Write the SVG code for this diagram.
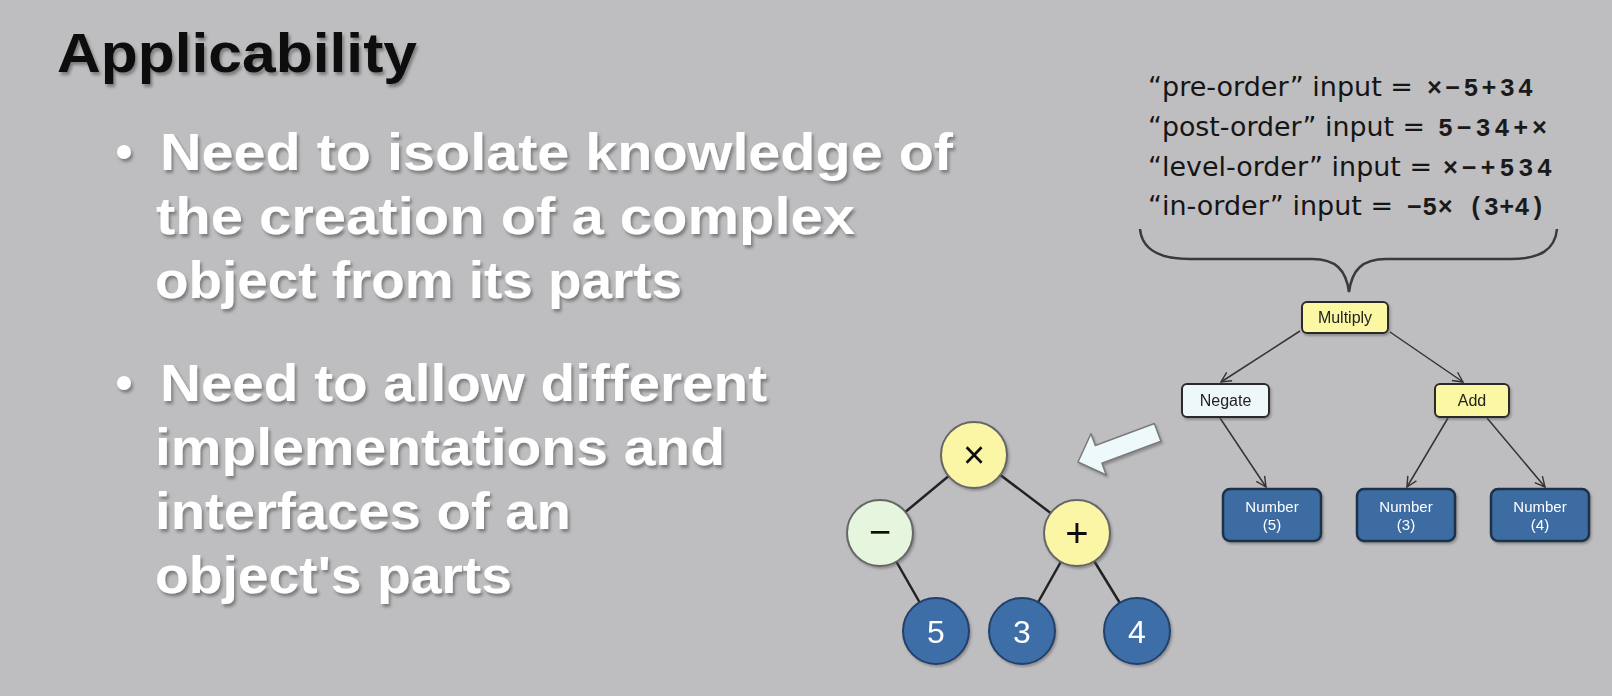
<svg xmlns="http://www.w3.org/2000/svg" width="1612" height="696" viewBox="0 0 1612 696">
  <defs>
    <filter id="txtShadow" x="-5%" y="-20%" width="110%" height="150%">
      <feDropShadow dx="2" dy="3" stdDeviation="1.6" flood-color="#4a4a4a" flood-opacity="0.55"/>
    </filter>
    <filter id="boxShadow" x="-10%" y="-10%" width="125%" height="130%">
      <feDropShadow dx="1.5" dy="2" stdDeviation="1.2" flood-color="#555" flood-opacity="0.45"/>
    </filter>
    <marker id="openHead" viewBox="0 0 12 12" refX="11" refY="6" markerWidth="12" markerHeight="12" markerUnits="userSpaceOnUse" orient="auto">
      <path d="M1,1 L11,6 L1,11" fill="none" stroke="#333" stroke-width="1.4"/>
    </marker>
  </defs>
  <style>
    .title { font-family: "Liberation Sans", Arial, sans-serif; font-weight: bold; font-size: 56px; fill: #0a0a0a; }
    .bullet { font-family: "Liberation Sans", Arial, sans-serif; font-weight: bold; font-size: 52px; fill: #ffffff; }
    .order { font-family: "DejaVu Sans", Verdana, sans-serif; font-size: 26px; fill: #151515; }
    .math { font-family: "Liberation Mono", "Courier New", monospace; font-weight: bold; font-size: 25px; fill: #1a1a1a; }
    .lbl { font-family: "Liberation Sans", Arial, sans-serif; font-size: 16px; fill: #222; text-anchor: middle; }
    .numlbl { font-family: "Liberation Sans", Arial, sans-serif; font-size: 15px; fill: #ffffff; text-anchor: middle; }
    .box { stroke: #2b2b2b; stroke-width: 2; }
    .yellow { fill: #fbf7a2; }
    .pale { fill: #eef8fb; }
    .blue { fill: #3d6ca3; stroke: #1b3049; stroke-width: 2.5; }
    .edge { fill: none; stroke: #333; stroke-width: 1.5; marker-end: url(#openHead); }
    .branch { stroke: #222; stroke-width: 2.5; }
    .circ { stroke: #666; stroke-width: 2; }
    .circBlue { fill: #3e6ea8; stroke: #22406a; stroke-width: 2; }
    .sym { font-family: "Liberation Sans", Arial, sans-serif; fill: #111; text-anchor: middle; }
    .digit { font-family: "Liberation Sans", Arial, sans-serif; font-size: 32px; fill: #ffffff; text-anchor: middle; }
  </style>

  <!-- slide background -->
  <rect x="0" y="0" width="1612" height="696" fill="#bebdc0"/>

  <!-- heading -->
  <g id="heading" filter="url(#txtShadow)">
    <text class="title" x="57" y="72" textLength="360" lengthAdjust="spacingAndGlyphs">Applicability</text>
  </g>

  <!-- bullet list -->
  <g id="bullet-1" filter="url(#txtShadow)">
    <circle cx="124" cy="152" r="7" fill="#fff"/>
    <text class="bullet" x="160" y="170" textLength="793" lengthAdjust="spacingAndGlyphs">Need to isolate knowledge of</text>
    <text class="bullet" x="156" y="234" textLength="699" lengthAdjust="spacingAndGlyphs">the creation of a complex</text>
    <text class="bullet" x="155" y="298" textLength="527" lengthAdjust="spacingAndGlyphs">object from its parts</text>
  </g>
  <g id="bullet-2" filter="url(#txtShadow)">
    <circle cx="124" cy="383" r="7" fill="#fff"/>
    <text class="bullet" x="160" y="401" textLength="607" lengthAdjust="spacingAndGlyphs">Need to allow different</text>
    <text class="bullet" x="155" y="465" textLength="570" lengthAdjust="spacingAndGlyphs">implementations and</text>
    <text class="bullet" x="155" y="529" textLength="416" lengthAdjust="spacingAndGlyphs">interfaces of an</text>
    <text class="bullet" x="155" y="593" textLength="357" lengthAdjust="spacingAndGlyphs">object's parts</text>
  </g>

  <!-- traversal orders -->
  <g id="orders">
    <text class="order" x="1148" y="96" textLength="265" lengthAdjust="spacingAndGlyphs">“pre-order” input =</text>
    <text class="math" x="1427" y="96" textLength="106" lengthAdjust="spacing">×−5+34</text>
    <text class="order" x="1148" y="136" textLength="277" lengthAdjust="spacingAndGlyphs">“post-order” input =</text>
    <text class="math" x="1438" y="136" textLength="109" lengthAdjust="spacing">5−34+×</text>
    <text class="order" x="1148" y="176" textLength="284" lengthAdjust="spacingAndGlyphs">“level-order” input =</text>
    <text class="math" x="1443" y="176" textLength="109" lengthAdjust="spacing">×−+534</text>
    <text class="order" x="1148" y="215" textLength="245" lengthAdjust="spacingAndGlyphs">“in-order” input =</text>
    <text class="math" x="1407" y="215" textLength="138" lengthAdjust="spacing">−5× (3+4)</text>
  </g>

  <!-- curly brace gathering the orders -->
  <g id="brace">
    <path d="M1140,229 C1142,250 1160,259 1190,259 L1312,259 C1336,259 1346,270 1349,292 C1352,270 1362,259 1386,259 L1510,259 C1540,259 1555,250 1557,229" fill="none" stroke="#3a3a3a" stroke-width="2.5"/>
  </g>

  <!-- object tree connectors -->
  <g id="tree-connectors">
    <line class="edge" x1="1300" y1="331" x2="1221" y2="382"/>
    <line class="edge" x1="1390" y1="332" x2="1463" y2="382"/>
    <line class="edge" x1="1220" y1="418" x2="1266" y2="487"/>
    <line class="edge" x1="1448" y1="418" x2="1407" y2="487"/>
    <line class="edge" x1="1487" y1="418" x2="1545" y2="487"/>
  </g>

  <!-- object tree nodes -->
  <g id="node-multiply" filter="url(#boxShadow)">
    <rect class="box yellow" x="1302" y="302" width="86" height="31" rx="5"/>
    <text class="lbl" x="1345" y="323">Multiply</text>
  </g>
  <g id="node-negate" filter="url(#boxShadow)">
    <rect class="box pale" x="1182" y="384" width="87" height="33" rx="5"/>
    <text class="lbl" x="1225.5" y="406">Negate</text>
  </g>
  <g id="node-add" filter="url(#boxShadow)">
    <rect class="box yellow" x="1435" y="384" width="74" height="33" rx="5"/>
    <text class="lbl" x="1472" y="406">Add</text>
  </g>
  <g id="node-number-5" filter="url(#boxShadow)">
    <rect class="blue" x="1223" y="489" width="98" height="52" rx="7"/>
    <text class="numlbl" x="1272" y="512">Number</text>
    <text class="numlbl" x="1272" y="530">(5)</text>
  </g>
  <g id="node-number-3" filter="url(#boxShadow)">
    <rect class="blue" x="1357" y="489" width="98" height="52" rx="7"/>
    <text class="numlbl" x="1406" y="512">Number</text>
    <text class="numlbl" x="1406" y="530">(3)</text>
  </g>
  <g id="node-number-4" filter="url(#boxShadow)">
    <rect class="blue" x="1491" y="489" width="98" height="52" rx="7"/>
    <text class="numlbl" x="1540" y="512">Number</text>
    <text class="numlbl" x="1540" y="530">(4)</text>
  </g>

  <!-- block arrow pointing to the expression tree -->
  <g id="block-arrow" filter="url(#boxShadow)">
    <polygon points="0,0 22,-22 22,-9.5 85,-9.5 85,9.5 22,9.5 22,22" transform="translate(1078,462) rotate(-20.4)" fill="#eef9fc" stroke="#7a7a7a" stroke-width="1.5" stroke-linejoin="round"/>
  </g>

  <!-- expression tree branches -->
  <g id="expr-branches">
    <line class="branch" x1="974" y1="455" x2="880" y2="533"/>
    <line class="branch" x1="974" y1="455" x2="1077" y2="533"/>
    <line class="branch" x1="880" y1="533" x2="936" y2="631"/>
    <line class="branch" x1="1077" y1="533" x2="1022" y2="631"/>
    <line class="branch" x1="1077" y1="533" x2="1137" y2="631"/>
  </g>

  <!-- expression tree nodes -->
  <g id="expr-times" filter="url(#boxShadow)">
    <circle class="circ" cx="974" cy="455" r="33" fill="#fbf6a6"/>
    <text class="sym" x="974" y="468" font-size="38">×</text>
  </g>
  <g id="expr-minus" filter="url(#boxShadow)">
    <circle class="circ" cx="880" cy="533" r="33" fill="#e6f5dd"/>
    <text class="sym" x="880" y="545" font-size="38">−</text>
  </g>
  <g id="expr-plus" filter="url(#boxShadow)">
    <circle class="circ" cx="1077" cy="533" r="33" fill="#fbf6a6"/>
    <text class="sym" x="1077" y="547" font-size="40">+</text>
  </g>
  <g id="expr-5" filter="url(#boxShadow)">
    <circle class="circBlue" cx="936" cy="631" r="33"/>
    <text class="digit" x="936" y="643">5</text>
  </g>
  <g id="expr-3" filter="url(#boxShadow)">
    <circle class="circBlue" cx="1022" cy="631" r="33"/>
    <text class="digit" x="1022" y="643">3</text>
  </g>
  <g id="expr-4" filter="url(#boxShadow)">
    <circle class="circBlue" cx="1137" cy="631" r="33"/>
    <text class="digit" x="1137" y="643">4</text>
  </g>
</svg>
